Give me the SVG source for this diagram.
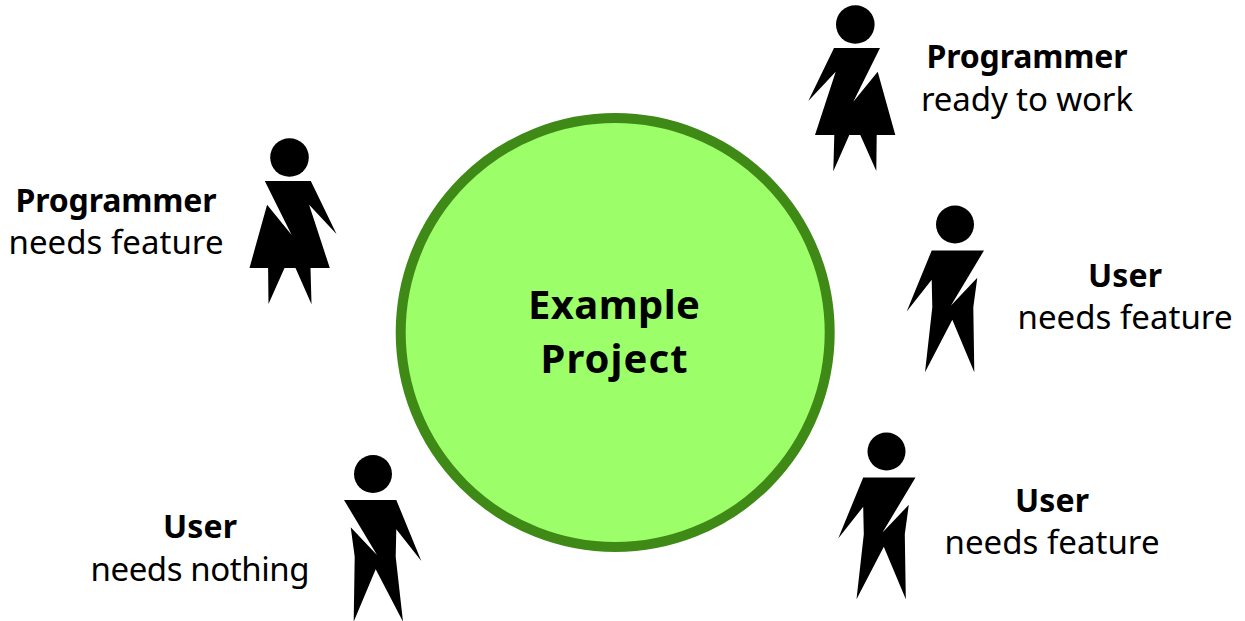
<svg xmlns="http://www.w3.org/2000/svg" width="1245" height="621" viewBox="0 0 1245 621">
<style>
.b{font-family:"Noto Sans","Open Sans",sans-serif;font-weight:700;font-size:32px;fill:#000;text-anchor:middle}
.r{font-family:"Noto Sans","Open Sans",sans-serif;font-weight:400;font-size:33px;fill:#000;text-anchor:middle}
.t{font-family:"Noto Sans","Open Sans",sans-serif;font-weight:700;font-size:40px;fill:#000;text-anchor:middle}
</style>
<defs>
<g id="woman"><circle cx="0" cy="0" r="19.3"/><polygon points="-21.3,23.5 24.7,23.5 -2,77.2 22.4,47.2 40,110.5 21.4,110.5 21,146.5 5,110.5 -6,110.5 -22,146.7 -21,110.5 -40.3,110.5 -19.6,47.2 -47,76.5"/></g>
<g id="man"><circle cx="0" cy="0" r="19"/><polygon points="-23.3,26 29,26 -4,81 22.3,53.3 18.3,82.7 19.3,147.7 -2.7,95.3 -30,147.7 -22.7,82.7 -23.3,55.3 -48.3,87"/></g>
</defs>
<g id="connectors"/>
<g id="project">
<circle cx="615.2" cy="332.5" r="214.5" fill="#9cff6a" stroke="#3f8a17" stroke-width="10"/>
<text class="t" x="614" y="319" textLength="172">Example</text>
<text class="t" x="614" y="373" textLength="147">Project</text>
</g>
<g id="programmer-ready"><use href="#woman" x="855.3" y="24.5"/>
<text class="b" x="1027" y="68" textLength="201">Programmer</text><text class="r" x="1027" y="110.5" textLength="212">ready to work</text></g>
<g id="programmer-needs"><use href="#woman" transform="translate(289.5 157.5) scale(-1 1)"/>
<text class="b" x="116" y="212" textLength="201">Programmer</text><text class="r" x="116" y="254" textLength="215">needs feature</text></g>
<g id="user-needs-1"><use href="#man" x="955" y="224.5"/>
<text class="b" x="1125" y="287" textLength="74">User</text><text class="r" x="1125" y="329" textLength="215">needs feature</text></g>
<g id="user-needs-2"><use href="#man" x="886.5" y="451.5"/>
<text class="b" x="1052" y="512" textLength="74">User</text><text class="r" x="1052" y="554" textLength="215">needs feature</text></g>
<g id="user-nothing"><use href="#man" transform="translate(373 474) scale(-1 1)"/>
<text class="b" x="200" y="538" textLength="74">User</text><text class="r" x="200" y="581" textLength="219">needs nothing</text></g>
</svg>
